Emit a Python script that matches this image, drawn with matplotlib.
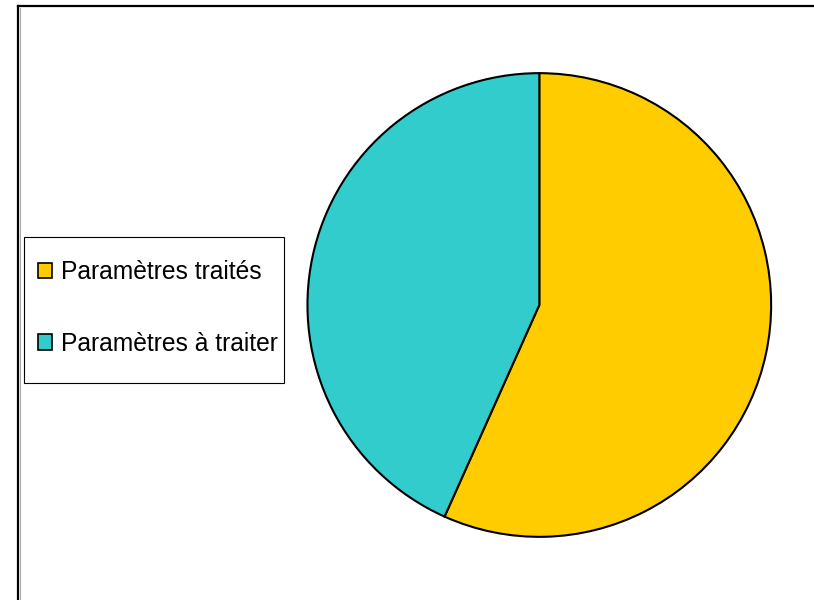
import matplotlib.pyplot as plt
from matplotlib.lines import Line2D
from matplotlib.patches import Rectangle

plt.rcParams['font.family'] = ['Liberation Sans', 'DejaVu Sans']

labels = ['Paramètres traités', 'Paramètres à traiter']
values = [56.7, 43.3]
colors = ['#FFCC00', '#33CCCC']

W, H = 814, 600
fig = plt.figure(figsize=(W / 100, H / 100), dpi=100)

# outer frame (top and left edges only visible)
fig.add_artist(Line2D([18 / W, 1], [1 - 6 / H, 1 - 6 / H], color='black', lw=1.6,
                      transform=fig.transFigure))
fig.add_artist(Line2D([18 / W, 18 / W], [0, 1 - 6 / H], color='black', lw=1.6,
                      transform=fig.transFigure))
fig.add_artist(Line2D([20 / W, 20 / W], [0, 1 - 8 / H], color='#aaaaaa', lw=0.8,
                      transform=fig.transFigure))

# pie area, center ~ (539, 305) px, radius ~233 px
cx, cy, r = 539.3, 305, 233
ax = fig.add_axes([(cx - r) / W, 1 - (cy + r) / H, 2 * r / W, 2 * r / H])
wedges, _ = ax.pie(values, colors=colors, startangle=90, counterclock=False,
                   wedgeprops=dict(edgecolor='black', linewidth=1.5))
ax.set_xlim(-1.005, 1.005)
ax.set_ylim(-1.005, 1.005)
ax.set_aspect('equal')
ax.axis('off')

# legend box drawn by hand, entries placed inside it
fig.add_artist(Rectangle((24 / W, 1 - 383 / H), 260 / W, 146 / H, transform=fig.transFigure,
                         facecolor='white', edgecolor='black', lw=0.8, zorder=3))
handles = [plt.Rectangle((0, 0), 1, 1, facecolor=c, edgecolor='black', lw=1.2) for c in colors]
leg = fig.legend(handles, labels, loc='center left', bbox_to_anchor=(38 / W, 1 - 308 / H),
                 fontsize=17.7, frameon=False, borderaxespad=0, borderpad=0,
                 labelspacing=1.93, handlelength=0.57, handleheight=0.57, handletextpad=0.37)
leg.set_zorder(4)

fig.savefig('out.png', dpi=100)
